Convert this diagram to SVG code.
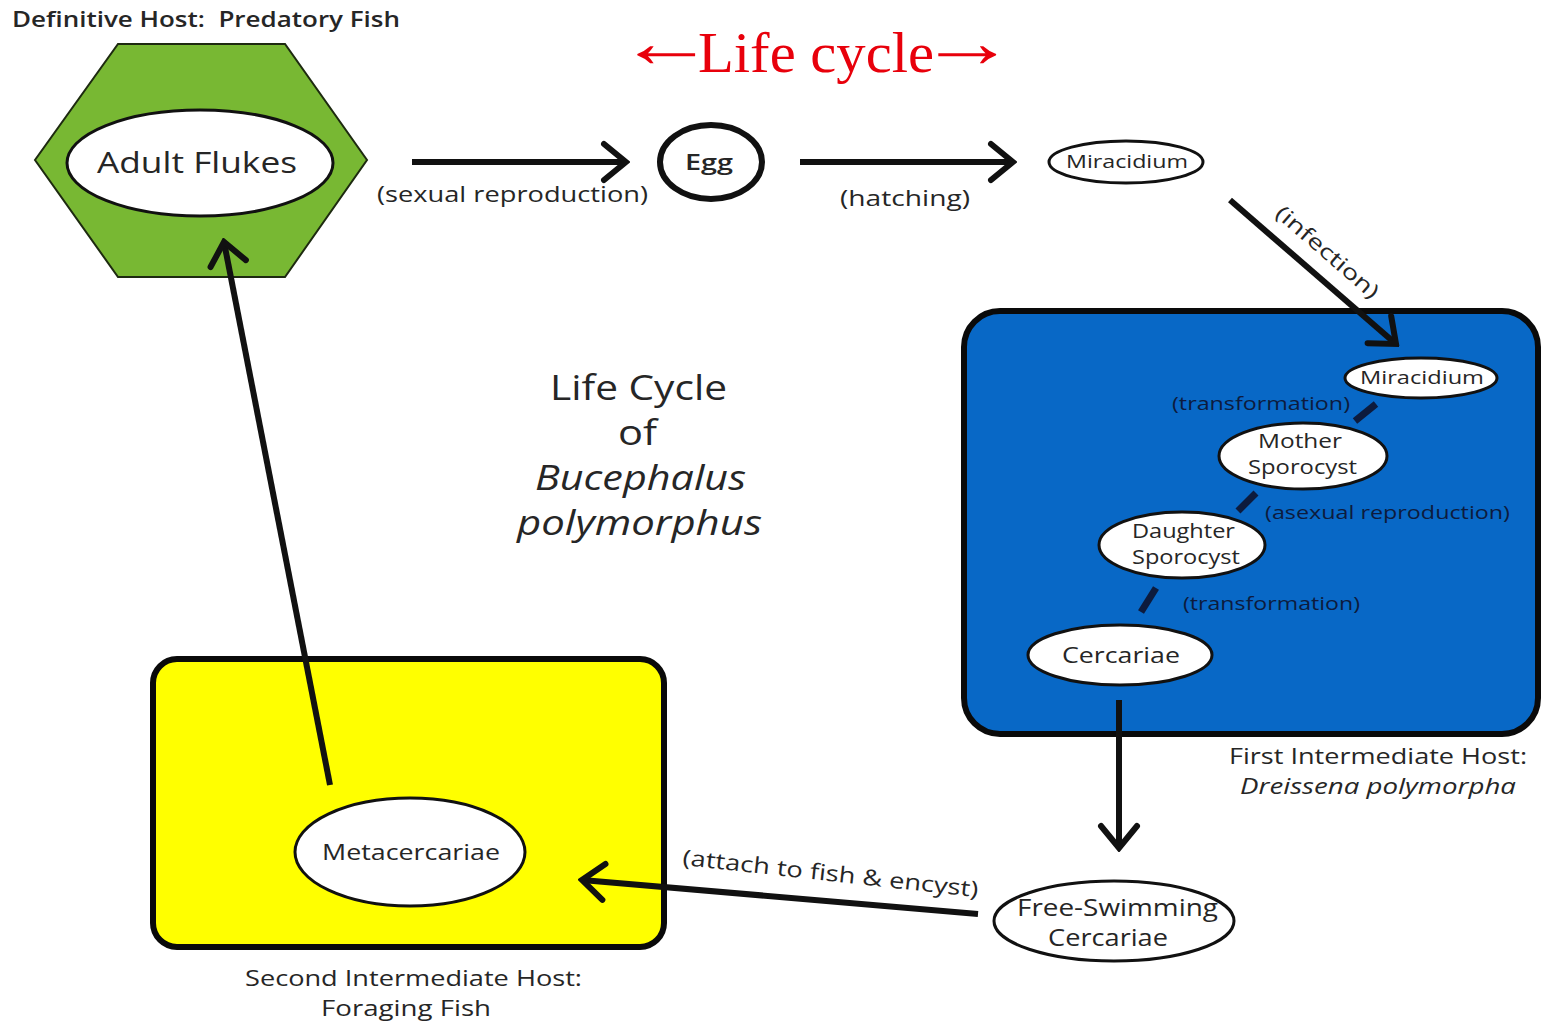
<svg xmlns="http://www.w3.org/2000/svg" width="1544" height="1023" viewBox="0 0 1544 1023">
<style>
.t{font-family:"Open Sans","Noto Sans","Liberation Sans",sans-serif;fill:#262626}
.s{font-weight:600}
.n{fill:#0d1b3d;font-family:"Open Sans","Noto Sans","Liberation Sans",sans-serif}
.e{fill:#fff;stroke:#111;stroke-width:3}
.c{stroke:#111;stroke-width:6;fill:none}
.d{stroke:#0d1b3d;stroke-width:7;fill:none}
.r{font-family:"Liberation Serif","Times New Roman",serif;fill:#e8000b}
</style>
<defs>
<marker id="ah" markerUnits="userSpaceOnUse" viewBox="-26 -22 30 44" refX="0" refY="0" markerWidth="30" markerHeight="44" orient="auto">
<path d="M-22,-18 L0,0 L-22,18" fill="none" stroke="#111" stroke-width="6" stroke-linecap="round" stroke-linejoin="miter"/>
</marker>
</defs>
<rect width="1544" height="1023" fill="#fff"/>

<text class="t s" x="12" y="27" font-size="22" xml:space="preserve" textLength="388" lengthAdjust="spacingAndGlyphs">Definitive Host:  Predatory Fish</text>
<g id="title">
<text class="r" x="0" y="0" font-size="66" text-anchor="middle" transform="translate(666,67) scale(1.48,1.1)">←</text>
<text class="r" x="698" y="72" font-size="58" textLength="236" lengthAdjust="spacingAndGlyphs">Life cycle</text>
<text class="r" x="0" y="0" font-size="66" text-anchor="middle" transform="translate(967,67) scale(1.48,1.1)">→</text>
</g>

<g id="host-definitive">
<polygon points="118,44 285,44 367,160 285,277 118,277 35,160" fill="#78b833" stroke="#1d2a10" stroke-width="2"/>
</g>
<g id="adult-flukes">
<ellipse cx="200" cy="163" rx="133" ry="53" class="e" stroke-width="4"/>
<text class="t" x="97" y="173" font-size="30" textLength="200" lengthAdjust="spacingAndGlyphs">Adult Flukes</text>
</g>
<g id="egg">
<ellipse cx="711" cy="162" rx="51" ry="37" fill="#fff" stroke="#111" stroke-width="6"/>
<text class="t s" x="685" y="170" font-size="22" textLength="48" lengthAdjust="spacingAndGlyphs">Egg</text>
</g>
<g id="miracidium-free">
<ellipse cx="1126" cy="162" rx="77" ry="21" class="e"/>
<text class="t" x="1066" y="168" font-size="18" textLength="122" lengthAdjust="spacingAndGlyphs">Miracidium</text>
</g>

<g id="host-first">
<rect x="964" y="311" width="574" height="423" rx="36" fill="#0868c6" stroke="#0a0a0a" stroke-width="6"/>
</g>
<g id="miracidium-in">
<ellipse cx="1421" cy="378" rx="76" ry="20" class="e"/>
<text class="t" x="1360" y="384" font-size="18" textLength="124" lengthAdjust="spacingAndGlyphs">Miracidium</text>
</g>
<g id="mother-sporocyst">
<ellipse cx="1303" cy="456" rx="84" ry="33" class="e"/>
<text class="t" x="1258" y="448" font-size="20" textLength="84" lengthAdjust="spacingAndGlyphs">Mother</text>
<text class="t" x="1248" y="474" font-size="20" textLength="109" lengthAdjust="spacingAndGlyphs">Sporocyst</text>
</g>
<g id="daughter-sporocyst">
<ellipse cx="1182" cy="545" rx="83" ry="33" class="e"/>
<text class="t" x="1132" y="538" font-size="20" textLength="103" lengthAdjust="spacingAndGlyphs">Daughter</text>
<text class="t" x="1132" y="564" font-size="20" textLength="108" lengthAdjust="spacingAndGlyphs">Sporocyst</text>
</g>
<g id="cercariae">
<ellipse cx="1120" cy="655" rx="92" ry="30" class="e"/>
<text class="t" x="1062" y="663" font-size="22" textLength="118" lengthAdjust="spacingAndGlyphs">Cercariae</text>
</g>
<g id="free-swimming-cercariae">
<ellipse cx="1114" cy="921" rx="120" ry="40" class="e"/>
<text class="t" x="1017" y="916" font-size="23" textLength="201" lengthAdjust="spacingAndGlyphs">Free-Swimming</text>
<text class="t" x="1048" y="946" font-size="23" textLength="120" lengthAdjust="spacingAndGlyphs">Cercariae</text>
</g>

<g id="host-second">
<rect x="153" y="659" width="511" height="288" rx="24" fill="#ffff00" stroke="#0a0a0a" stroke-width="6"/>
</g>
<g id="metacercariae">
<ellipse cx="410" cy="852" rx="115" ry="54" class="e"/>
<text class="t" x="322" y="860" font-size="21" textLength="178" lengthAdjust="spacingAndGlyphs">Metacercariae</text>
</g>

<g id="connectors">
<line x1="412" y1="162" x2="626" y2="162" class="c" marker-end="url(#ah)"/>
<line x1="800" y1="162" x2="1013" y2="162" class="c" marker-end="url(#ah)"/>
<line x1="1230" y1="200" x2="1396" y2="344" class="c" marker-end="url(#ah)"/>
<line x1="1376" y1="404" x2="1355" y2="421" class="d"/>
<line x1="1256" y1="493" x2="1238" y2="511" class="d"/>
<line x1="1156" y1="588" x2="1141" y2="612" class="d"/>
<line x1="1119" y1="700" x2="1119" y2="848" class="c" marker-end="url(#ah)"/>
<line x1="978" y1="914" x2="582" y2="880" class="c" marker-end="url(#ah)"/>
<line x1="330" y1="785" x2="224" y2="242" class="c" marker-end="url(#ah)"/>
</g>

<g id="labels">
<text class="t" x="377" y="202" font-size="22" textLength="271" lengthAdjust="spacingAndGlyphs">(sexual reproduction)</text>
<text class="t" x="840" y="206" font-size="22" textLength="130" lengthAdjust="spacingAndGlyphs">(hatching)</text>
<text class="t" x="-64" y="7" font-size="21" textLength="129" lengthAdjust="spacingAndGlyphs" transform="translate(1327,252) rotate(41)">(infection)</text>
<text class="n" x="1172" y="410" font-size="19" textLength="178" lengthAdjust="spacingAndGlyphs">(transformation)</text>
<text class="n" x="1265" y="519" font-size="19" textLength="245" lengthAdjust="spacingAndGlyphs">(asexual reproduction)</text>
<text class="n" x="1183" y="610" font-size="19" textLength="177" lengthAdjust="spacingAndGlyphs">(transformation)</text>
<text class="t" x="-148" y="7" font-size="22" textLength="297" lengthAdjust="spacingAndGlyphs" transform="translate(830,874) rotate(6.2)">(attach to fish &amp; encyst)</text>
<text class="t" x="1229" y="764" font-size="22" textLength="298" lengthAdjust="spacingAndGlyphs">First Intermediate Host:</text>
<text class="t" x="1240" y="794" font-size="22" font-style="italic" textLength="276" lengthAdjust="spacingAndGlyphs">Dreissena polymorpha</text>
<text class="t" x="245" y="986" font-size="22" textLength="337" lengthAdjust="spacingAndGlyphs">Second Intermediate Host:</text>
<text class="t" x="321" y="1016" font-size="22" textLength="170" lengthAdjust="spacingAndGlyphs">Foraging Fish</text>
<text class="t" x="550" y="400" font-size="35" textLength="177" lengthAdjust="spacingAndGlyphs">Life Cycle</text>
<text class="t" x="618" y="445" font-size="35" textLength="39" lengthAdjust="spacingAndGlyphs">of</text>
<text class="t" x="535" y="490" font-size="35" font-style="italic" textLength="211" lengthAdjust="spacingAndGlyphs">Bucephalus</text>
<text class="t" x="517" y="535" font-size="35" font-style="italic" textLength="245" lengthAdjust="spacingAndGlyphs">polymorphus</text>
</g>
</svg>
